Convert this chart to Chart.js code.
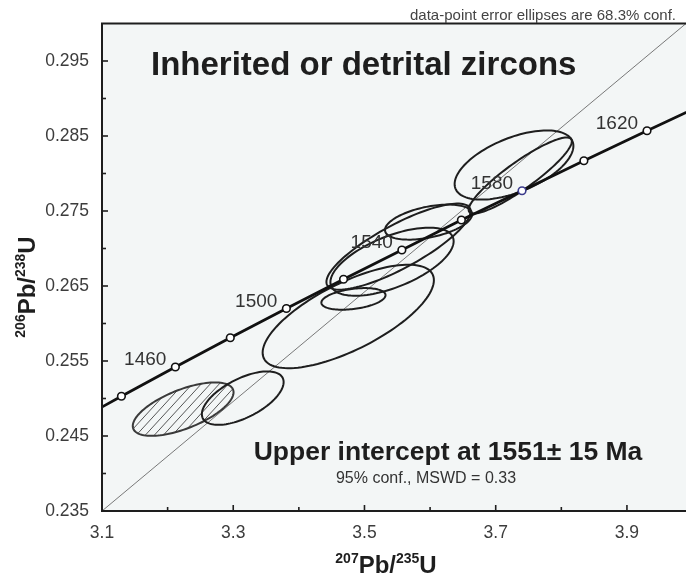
<!DOCTYPE html>
<html>
<head>
<meta charset="utf-8">
<title>Concordia – inherited zircons</title>
<script src="https://cdn.jsdelivr.net/npm/chart.js@4.4.1/dist/chart.umd.min.js"></script>
<style>
  html, body { margin: 0; padding: 0; background: #fff; }
  #wrap { width: 686px; height: 580px; position: relative; }
</style>
</head>
<body>
<div id="wrap"><canvas id="concordia"></canvas></div>
<script>
// concordia nodes, every 20 Ma (first and last only extend the curve)
const concordiaAge = [1420, 1440, 1460, 1480, 1500, 1520, 1540, 1560, 1580, 1600, 1620, 1640];
const concordiaX = [3.0491, 3.1296, 3.2118, 3.2955, 3.3810, 3.4681, 3.5570, 3.6477, 3.7401, 3.8344, 3.9306, 4.0286];
const concordiaY = [0.2464, 0.2503, 0.2542, 0.2581, 0.2620, 0.2659, 0.2698, 0.2738, 0.2777, 0.2817, 0.2857, 0.2897];
const labelledAges = [1460, 1500, 1540, 1580, 1620];

// analyses: 207Pb/235U, 206Pb/238U, 1-sigma errors and error correlation
const spotX = [3.2237, 3.3145, 3.4753, 3.4832, 3.5519, 3.5420, 3.5977, 3.7279, 3.7374];
const spotY = [0.24858, 0.25005, 0.26094, 0.26328, 0.27025, 0.26824, 0.27352, 0.28113, 0.27973];
const errX = [0.0768, 0.0623, 0.1305, 0.0489, 0.1099, 0.0939, 0.0664, 0.0905, 0.0786];
const errY = [0.00356, 0.00356, 0.0069, 0.00144, 0.00574, 0.00454, 0.00234, 0.00461, 0.00507];
const rho = [0.63, 0.60, 0.70, 0.35, 0.82, 0.60, 0.45, 0.55, 0.90];
const excluded = [true, false, false, false, false, false, false, false, false];

// axis ticks
const xTickValues = [3.1, 3.2, 3.3, 3.4, 3.5, 3.6, 3.7, 3.8, 3.9];
const xTickLabels = ['3.1', '', '3.3', '', '3.5', '', '3.7', '', '3.9'];
const yTickValues = [0.235, 0.24, 0.245, 0.25, 0.255, 0.26, 0.265, 0.27, 0.275, 0.28, 0.285, 0.29, 0.295];
const yTickLabels = ['0.235', '', '0.245', '', '0.255', '', '0.265', '', '0.275', '', '0.285', '', '0.295'];

const FONT = "'Liberation Sans', Arial, Helvetica, sans-serif";
const INK = '#1e1e1e';

function ellipsePath(ctx, xs, ys, i) {
    const steps = 120;
    const k = Math.sqrt(1 - rho[i] * rho[i]);
    ctx.beginPath();
    for (let s = 0; s <= steps; s++) {
        const t = s / steps * Math.PI * 2;
        const c = Math.cos(t), sn = Math.sin(t);
        const px = xs.getPixelForValue(spotX[i] + errX[i] * c);
        const py = ys.getPixelForValue(spotY[i] + errY[i] * (rho[i] * c + k * sn));
        if (s === 0) ctx.moveTo(px, py); else ctx.lineTo(px, py);
    }
    ctx.closePath();
}

// plot background + error ellipses (drawn under the concordia curve)
const ellipsePlugin = {
    id: 'ellipses',
    beforeDatasetsDraw(chart) {
        const { ctx, chartArea: a } = chart;
        ctx.save();
        ctx.fillStyle = '#f3f6f6';
        ctx.fillRect(a.left, a.top, a.right - a.left, a.bottom - a.top);
        ctx.restore();
    },
    beforeDatasetDraw(chart, args) {
        if (args.index !== 0) return;
        const { ctx, chartArea: a } = chart;
        const xs = chart.scales.x, ys = chart.scales.y;
        ctx.save();
        ctx.beginPath();
        ctx.rect(a.left, a.top, a.right - a.left, a.bottom - a.top);
        ctx.clip();
        spotX.forEach((_, i) => {
            if (excluded[i]) {
                // hatched fill for the rejected analysis
                ctx.save();
                ellipsePath(ctx, xs, ys, i);
                ctx.clip();
                ctx.strokeStyle = '#555';
                ctx.lineWidth = 1;
                const cx = xs.getPixelForValue(spotX[i]);
                const cy = ys.getPixelForValue(spotY[i]);
                for (let d = -140; d <= 140; d += 9) {
                    ctx.beginPath();
                    ctx.moveTo(cx + d - 55, cy + 60);
                    ctx.lineTo(cx + d + 55, cy - 60);
                    ctx.stroke();
                }
                ctx.restore();
            }
            ellipsePath(ctx, xs, ys, i);
            ctx.strokeStyle = excluded[i] ? '#3a3a3a' : INK;
            ctx.lineWidth = 2;
            ctx.stroke();
        });
        ctx.restore();
    }
};

function drawIsotope(ctx, supA, mainA, supB, mainB, x, y) {
    const big = 'bold 24px ' + FONT, small = 'bold 14px ' + FONT;
    const parts = [[supA, small, -10], [mainA, big, 0], [supB, small, -10], [mainB, big, 0]];
    let w = 0;
    parts.forEach(p => { ctx.font = p[1]; w += ctx.measureText(p[0]).width; });
    let cx = x - w / 2;
    ctx.textAlign = 'left';
    ctx.textBaseline = 'alphabetic';
    parts.forEach(p => {
        ctx.font = p[1];
        ctx.fillText(p[0], cx, y + p[2]);
        cx += ctx.measureText(p[0]).width;
    });
}

// frame, inward ticks, age labels and annotations
const framePlugin = {
    id: 'frame',
    afterDraw(chart) {
        const { ctx, chartArea: a } = chart;
        const xs = chart.scales.x, ys = chart.scales.y;
        ctx.save();

        ctx.strokeStyle = INK;
        ctx.lineWidth = 2;
        ctx.beginPath();
        ctx.moveTo(a.right, a.top);
        ctx.lineTo(a.left, a.top);
        ctx.lineTo(a.left, a.bottom);
        ctx.lineTo(a.right, a.bottom);
        ctx.stroke();

        ctx.lineWidth = 1.6;
        xTickValues.forEach((v, i) => {
            const px = xs.getPixelForValue(v);
            const len = xTickLabels[i] ? 6 : 4;
            ctx.beginPath();
            ctx.moveTo(px, a.bottom);
            ctx.lineTo(px, a.bottom - len);
            ctx.stroke();
        });
        yTickValues.forEach((v, i) => {
            const py = ys.getPixelForValue(v);
            const len = yTickLabels[i] ? 6 : 4;
            ctx.beginPath();
            ctx.moveTo(a.left, py);
            ctx.lineTo(a.left + len, py);
            ctx.stroke();
        });

        // age labels beside the concordia nodes
        ctx.fillStyle = '#333';
        ctx.font = '19px ' + FONT;
        ctx.textAlign = 'right';
        ctx.textBaseline = 'alphabetic';
        labelledAges.forEach(age => {
            const i = concordiaAge.indexOf(age);
            const px = xs.getPixelForValue(concordiaX[i]);
            const py = ys.getPixelForValue(concordiaY[i]);
            ctx.fillText(String(age), px - 9, py - 2);
        });

        ctx.fillStyle = INK;
        ctx.textAlign = 'left';
        ctx.font = 'bold 33px ' + FONT;
        ctx.fillText('Inherited or detrital zircons', 151, 75);

        ctx.textAlign = 'center';
        ctx.font = 'bold 26.5px ' + FONT;
        ctx.fillText('Upper intercept at 1551\u00b1 15 Ma', 448, 460);
        ctx.fillStyle = '#333';
        ctx.font = '16px ' + FONT;
        ctx.fillText('95% conf., MSWD = 0.33', 426, 483);

        ctx.textAlign = 'right';
        ctx.font = '15px ' + FONT;
        ctx.fillStyle = '#444';
        ctx.fillText('data-point error ellipses are 68.3% conf.', 676, 20);

        // axis titles with mass-number superscripts
        ctx.fillStyle = INK;
        drawIsotope(ctx, '207', 'Pb/', '235', 'U', 386, 573);
        ctx.translate(35, 287);
        ctx.rotate(-Math.PI / 2);
        drawIsotope(ctx, '206', 'Pb/', '238', 'U', 0, 0);
        ctx.restore();
    }
};

const concordiaPoints = concordiaAge.map((age, i) => ({ x: concordiaX[i], y: concordiaY[i] }));
const lastNode = concordiaAge.length - 1;

new Chart(document.getElementById('concordia'), {
    type: 'scatter',
    data: {
        datasets: [{
            label: 'concordia',
            data: concordiaPoints,
            showLine: true,
            borderColor: '#111',
            borderWidth: 2.8,
            pointRadius: concordiaAge.map((a, i) => (i === 0 || i === lastNode) ? 0 : 3.8),
            pointBackgroundColor: '#fff',
            pointBorderColor: concordiaAge.map(a => a === 1580 ? '#3b3b8c' : '#111'),
            pointBorderWidth: 1.6
        }, {
            label: 'reference',
            data: [{ x: 3.1, y: 0.235 }, { x: 3.99, y: 0.300 }],
            showLine: true,
            borderColor: '#6a6a6a',
            borderWidth: 0.9,
            pointRadius: 0
        }]
    },
    options: {
        responsive: true,
        maintainAspectRatio: false,
        animation: false,
        layout: { padding: { top: 23, right: 0, left: 0, bottom: 0 } },
        plugins: { legend: { display: false }, tooltip: { enabled: false } },
        scales: {
            x: {
                type: 'linear',
                min: 3.1,
                max: 3.99,
                afterBuildTicks: s => { s.ticks = xTickValues.map(v => ({ value: v })); },
                afterFit: s => { s.height = 69; },
                grid: { display: false, drawTicks: false },
                border: { display: false },
                ticks: {
                    callback: (v, i) => xTickLabels[i],
                    padding: 12,
                    maxRotation: 0,
                    autoSkip: false,
                    color: '#3c3c3c',
                    font: { family: FONT, size: 17.5 }
                }
            },
            y: {
                type: 'linear',
                min: 0.235,
                max: 0.300,
                afterBuildTicks: s => { s.ticks = yTickValues.map(v => ({ value: v })); },
                afterFit: s => { s.width = 102; },
                grid: { display: false, drawTicks: false },
                border: { display: false },
                ticks: {
                    callback: (v, i) => yTickLabels[i],
                    padding: 13,
                    autoSkip: false,
                    color: '#3c3c3c',
                    font: { family: FONT, size: 17.5 }
                }
            }
        }
    },
    plugins: [ellipsePlugin, framePlugin]
});
</script>
</body>
</html>
